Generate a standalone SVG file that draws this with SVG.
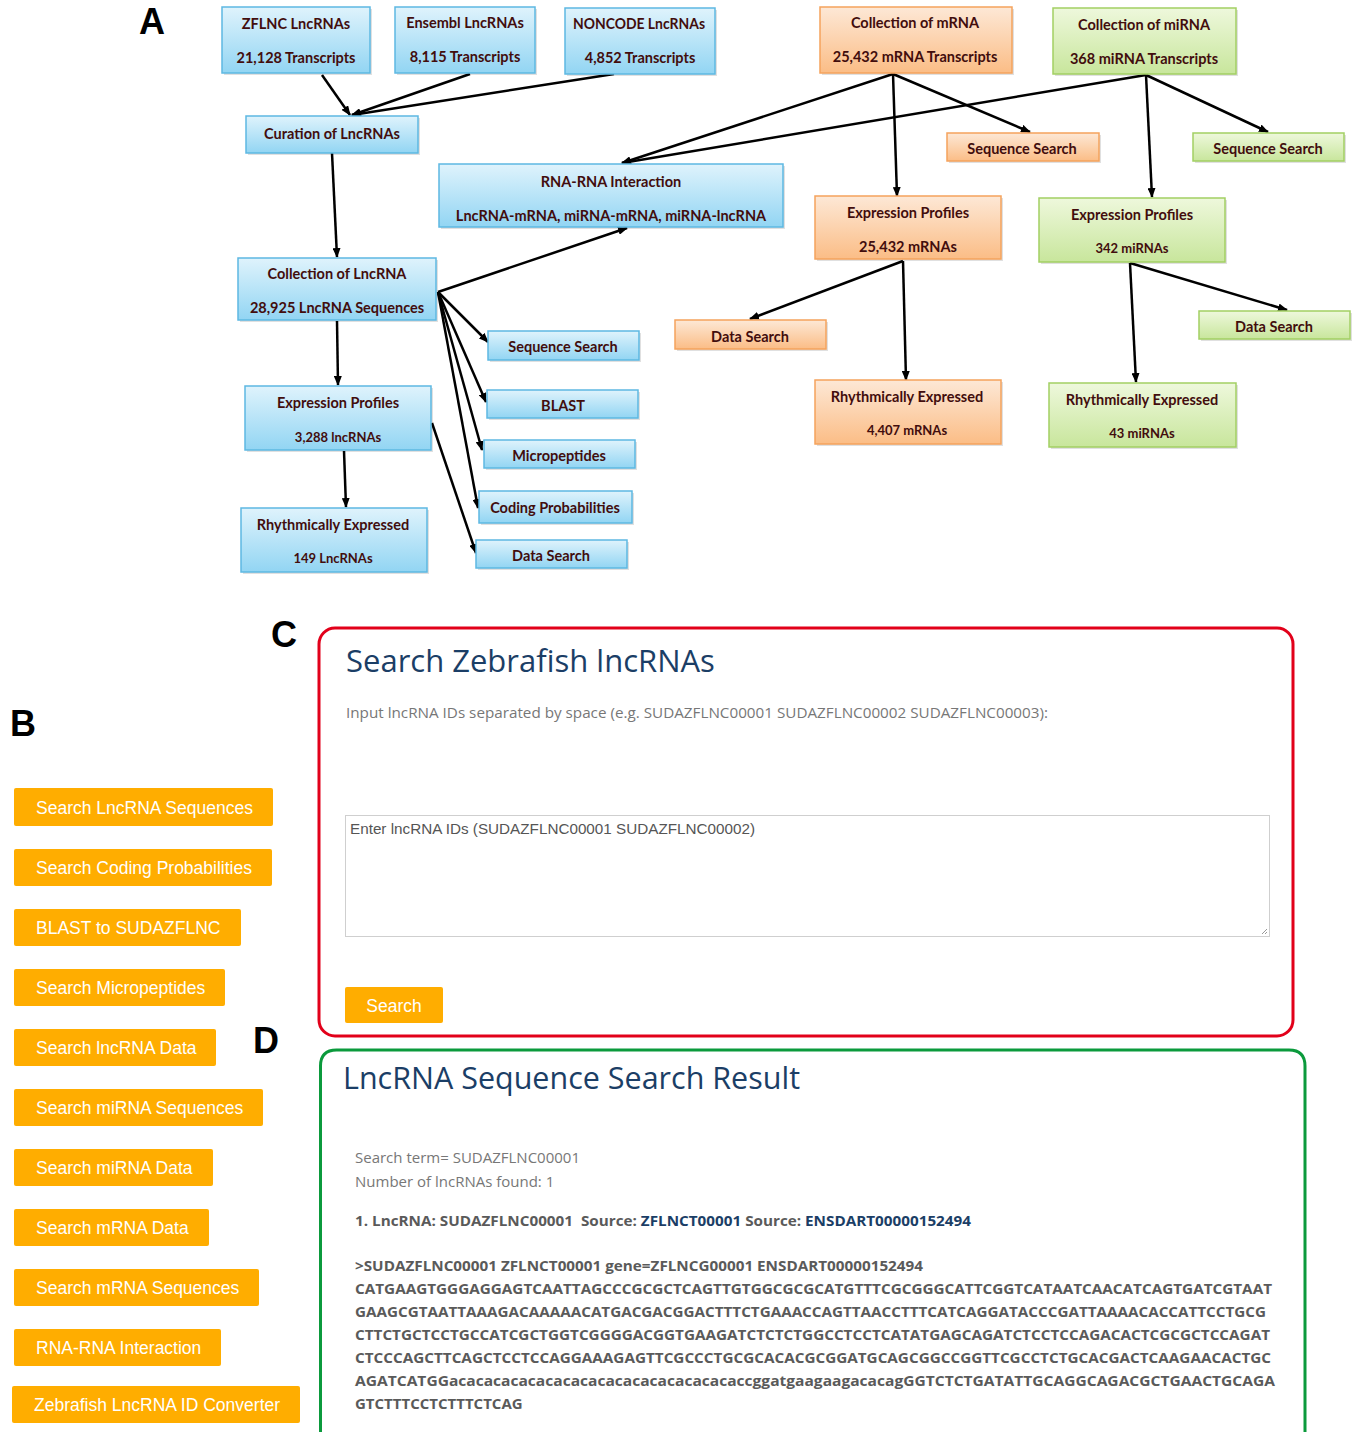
<svg xmlns="http://www.w3.org/2000/svg" width="1355" height="1432" viewBox="0 0 1355 1432">
<defs>
<linearGradient id="gBlue" x1="0" y1="0" x2="0" y2="1"><stop offset="0" stop-color="#dff3fc"/><stop offset="1" stop-color="#92d5f3"/></linearGradient>
<linearGradient id="gOrange" x1="0" y1="0" x2="0" y2="1"><stop offset="0" stop-color="#fde8d6"/><stop offset="1" stop-color="#fbbd86"/></linearGradient>
<linearGradient id="gGreen" x1="0" y1="0" x2="0" y2="1"><stop offset="0" stop-color="#eef8dc"/><stop offset="1" stop-color="#c8e69c"/></linearGradient>
<marker id="arr" markerUnits="userSpaceOnUse" markerWidth="10" markerHeight="8" refX="9" refY="4" orient="auto"><path d="M0,0 L10,4 L0,8 z" fill="#000"/></marker>
</defs>
<style>
.blue{fill:url(#gBlue);stroke:#5db8e2;stroke-width:1.5}
.orange{fill:url(#gOrange);stroke:#f5a35c;stroke-width:1.5}
.green{fill:url(#gGreen);stroke:#a2cf63;stroke-width:1.5}
.sh{fill:#000;opacity:0.12}
.nt{font-family:Lato,"Liberation Sans",sans-serif;font-weight:bold;font-size:14.5px;fill:#420d0d;text-anchor:middle;dominant-baseline:central}
.ns{font-size:13px}
.conn line{stroke:#000;stroke-width:2.5;marker-end:url(#arr)}
.lbl{font-family:"Liberation Sans",Arial,sans-serif;font-weight:bold;font-size:36px;fill:#000}
.btn{fill:#ffad00}
.bt{font-family:"Liberation Sans",Arial,sans-serif;font-size:17.5px;fill:#fff}
.h{font-family:"Open Sans","Liberation Sans",sans-serif;font-size:31px;fill:#1b3e66}
.p{font-family:"Open Sans","Liberation Sans",sans-serif;font-size:15px;fill:#777}
.sq{font-family:"Open Sans","Liberation Sans",sans-serif;font-size:15px;font-weight:bold;fill:#5a5a5a}
.lk{fill:#1b3e66}
</style>
<rect width="1355" height="1432" fill="#fff"/>

<!-- Panel labels -->
<text class="lbl" x="139" y="34">A</text>
<text class="lbl" x="10" y="736">B</text>
<text class="lbl" x="271" y="647">C</text>
<text class="lbl" x="253" y="1053">D</text>

<!-- Connectors -->
<g id="connectors" class="conn">
<line x1="322" y1="75" x2="350" y2="115"/>
<line x1="470" y1="74" x2="352" y2="115"/>
<line x1="614" y1="74" x2="352" y2="115"/>
<line x1="332" y1="153" x2="337" y2="257"/>
<line x1="337" y1="321" x2="338" y2="385"/>
<line x1="344" y1="451" x2="346" y2="507"/>
<line x1="438" y1="292" x2="627" y2="228"/>
<line x1="438" y1="292" x2="488" y2="342"/>
<line x1="438" y1="292" x2="486" y2="402"/>
<line x1="438" y1="292" x2="482" y2="450"/>
<line x1="438" y1="292" x2="478" y2="508"/>
<line x1="432" y1="423" x2="476" y2="553"/>
<line x1="893" y1="74" x2="622" y2="163"/>
<line x1="893" y1="74" x2="1030" y2="132"/>
<line x1="893" y1="74" x2="897" y2="196"/>
<line x1="1146" y1="75" x2="622" y2="163"/>
<line x1="1146" y1="75" x2="1268" y2="132"/>
<line x1="1146" y1="75" x2="1152" y2="197"/>
<line x1="903" y1="261" x2="750" y2="319"/>
<line x1="903" y1="261" x2="906" y2="380"/>
<line x1="1130" y1="263" x2="1287" y2="310"/>
<line x1="1130" y1="263" x2="1136" y2="382"/>
</g>

<!-- Blue nodes -->
<g id="n_zflnc"><rect class="sh" x="224" y="9" width="148" height="66"/><rect class="blue" x="222" y="7" width="148" height="66"/><text class="nt" x="296" y="23">ZFLNC LncRNAs</text><text class="nt" x="296" y="57">21,128 Transcripts</text></g>
<g id="n_ensembl"><rect class="sh" x="397" y="9" width="140" height="66"/><rect class="blue" x="395" y="7" width="140" height="66"/><text class="nt" x="465" y="22">Ensembl LncRNAs</text><text class="nt" x="465" y="56">8,115 Transcripts</text></g>
<g id="n_noncode"><rect class="sh" x="567" y="10" width="150" height="66"/><rect class="blue" x="565" y="8" width="150" height="66"/><text class="nt" x="639" y="23" textLength="132" lengthAdjust="spacingAndGlyphs">NONCODE LncRNAs</text><text class="nt" x="640" y="57">4,852 Transcripts</text></g>
<g id="n_curation"><rect class="sh" x="248" y="118" width="172" height="37"/><rect class="blue" x="246" y="116" width="172" height="37"/><text class="nt" x="332" y="133">Curation of LncRNAs</text></g>
<g id="n_rnarna"><rect class="sh" x="441" y="166" width="344" height="63"/><rect class="blue" x="439" y="164" width="344" height="63"/><text class="nt" x="611" y="181">RNA-RNA Interaction</text><text class="nt" x="611" y="215">LncRNA-mRNA, miRNA-mRNA, miRNA-lncRNA</text></g>
<g id="n_collnc"><rect class="sh" x="240" y="260" width="198" height="62"/><rect class="blue" x="238" y="258" width="198" height="62"/><text class="nt" x="337" y="273">Collection of LncRNA</text><text class="nt" x="337" y="307">28,925 LncRNA Sequences</text></g>
<g id="n_explnc"><rect class="sh" x="247" y="388" width="186" height="64"/><rect class="blue" x="245" y="386" width="186" height="64"/><text class="nt" x="338" y="402">Expression Profiles</text><text class="nt ns" x="338" y="437">3,288 lncRNAs</text></g>
<g id="n_rhylnc"><rect class="sh" x="243" y="510" width="186" height="64"/><rect class="blue" x="241" y="508" width="186" height="64"/><text class="nt" x="333" y="524">Rhythmically Expressed</text><text class="nt ns" x="333" y="558">149 LncRNAs</text></g>
<g id="n_seqlnc"><rect class="sh" x="490" y="333" width="151" height="29"/><rect class="blue" x="488" y="331" width="151" height="29"/><text class="nt" x="563" y="346">Sequence Search</text></g>
<g id="n_blast"><rect class="sh" x="489" y="392" width="151" height="28"/><rect class="blue" x="487" y="390" width="151" height="28"/><text class="nt" x="563" y="405">BLAST</text></g>
<g id="n_micro"><rect class="sh" x="486" y="442" width="151" height="28"/><rect class="blue" x="484" y="440" width="151" height="28"/><text class="nt" x="559" y="455">Micropeptides</text></g>
<g id="n_coding"><rect class="sh" x="481" y="493" width="153" height="32"/><rect class="blue" x="479" y="491" width="153" height="32"/><text class="nt" x="555" y="507">Coding Probabilities</text></g>
<g id="n_datalnc"><rect class="sh" x="478" y="542" width="151" height="28"/><rect class="blue" x="476" y="540" width="151" height="28"/><text class="nt" x="551" y="555">Data Search</text></g>

<!-- Orange nodes -->
<g id="n_colm"><rect class="sh" x="822" y="9" width="192" height="66"/><rect class="orange" x="820" y="7" width="192" height="66"/><text class="nt" x="915" y="22">Collection of mRNA</text><text class="nt" x="915" y="56">25,432 mRNA Transcripts</text></g>
<g id="n_seqm"><rect class="sh" x="949" y="135" width="152" height="28"/><rect class="orange" x="947" y="133" width="152" height="28"/><text class="nt" x="1022" y="148">Sequence Search</text></g>
<g id="n_expm"><rect class="sh" x="817" y="198" width="186" height="63"/><rect class="orange" x="815" y="196" width="186" height="63"/><text class="nt" x="908" y="212">Expression Profiles</text><text class="nt" x="908" y="246">25,432 mRNAs</text></g>
<g id="n_datam"><rect class="sh" x="677" y="322" width="151" height="29"/><rect class="orange" x="675" y="320" width="151" height="29"/><text class="nt" x="750" y="336">Data Search</text></g>
<g id="n_rhym"><rect class="sh" x="817" y="382" width="186" height="64"/><rect class="orange" x="815" y="380" width="186" height="64"/><text class="nt" x="907" y="396">Rhythmically Expressed</text><text class="nt ns" x="907" y="430">4,407 mRNAs</text></g>

<!-- Green nodes -->
<g id="n_colmi"><rect class="sh" x="1055" y="10" width="183" height="66"/><rect class="green" x="1053" y="8" width="183" height="66"/><text class="nt" x="1144" y="24">Collection of miRNA</text><text class="nt" x="1144" y="58">368 miRNA Transcripts</text></g>
<g id="n_seqmi"><rect class="sh" x="1195" y="135" width="151" height="28"/><rect class="green" x="1193" y="133" width="151" height="28"/><text class="nt" x="1268" y="148">Sequence Search</text></g>
<g id="n_expmi"><rect class="sh" x="1041" y="200" width="186" height="64"/><rect class="green" x="1039" y="198" width="186" height="64"/><text class="nt" x="1132" y="214">Expression Profiles</text><text class="nt ns" x="1132" y="248">342 miRNAs</text></g>
<g id="n_datami"><rect class="sh" x="1201" y="313" width="151" height="28"/><rect class="green" x="1199" y="311" width="151" height="28"/><text class="nt" x="1274" y="326">Data Search</text></g>
<g id="n_rhymi"><rect class="sh" x="1051" y="385" width="187" height="64"/><rect class="green" x="1049" y="383" width="187" height="64"/><text class="nt" x="1142" y="399">Rhythmically Expressed</text><text class="nt ns" x="1142" y="433">43 miRNAs</text></g>

<!-- Panel B: buttons -->
<g id="panelB">
<g id="b1"><rect class="btn" x="14" y="788" width="259" height="38" rx="2"/><text class="bt" x="36" y="814">Search LncRNA Sequences</text></g>
<g id="b2"><rect class="btn" x="14" y="849" width="258" height="37" rx="2"/><text class="bt" x="36" y="874">Search Coding Probabilities</text></g>
<g id="b3"><rect class="btn" x="14" y="909" width="227" height="37" rx="2"/><text class="bt" x="36" y="934">BLAST to SUDAZFLNC</text></g>
<g id="b4"><rect class="btn" x="14" y="969" width="211" height="37" rx="2"/><text class="bt" x="36" y="994">Search Micropeptides</text></g>
<g id="b5"><rect class="btn" x="14" y="1029" width="202" height="37" rx="2"/><text class="bt" x="36" y="1054">Search lncRNA Data</text></g>
<g id="b6"><rect class="btn" x="14" y="1089" width="249" height="37" rx="2"/><text class="bt" x="36" y="1114">Search miRNA Sequences</text></g>
<g id="b7"><rect class="btn" x="14" y="1149" width="199" height="37" rx="2"/><text class="bt" x="36" y="1174">Search miRNA Data</text></g>
<g id="b8"><rect class="btn" x="14" y="1209" width="195" height="37" rx="2"/><text class="bt" x="36" y="1234">Search mRNA Data</text></g>
<g id="b9"><rect class="btn" x="14" y="1269" width="245" height="37" rx="2"/><text class="bt" x="36" y="1294">Search mRNA Sequences</text></g>
<g id="b10"><rect class="btn" x="14" y="1329" width="207" height="37" rx="2"/><text class="bt" x="36" y="1354">RNA-RNA Interaction</text></g>
<g id="b11"><rect class="btn" x="12" y="1386" width="288" height="37" rx="2"/><text class="bt" x="34" y="1411">Zebrafish LncRNA ID Converter</text></g>
</g>

<!-- Panel C -->
<g id="panelC">
<rect x="319" y="628" width="974" height="408" rx="16" fill="none" stroke="#e2001a" stroke-width="3"/>
<text class="h" x="346" y="672">Search Zebrafish lncRNAs</text>
<text class="p" x="346" y="718" textLength="702" lengthAdjust="spacingAndGlyphs">Input lncRNA IDs separated by space (e.g. SUDAZFLNC00001 SUDAZFLNC00002 SUDAZFLNC00003):</text>
<rect x="345.5" y="815.5" width="924" height="121" fill="#fff" stroke="#cfcfcf" stroke-width="1"/>
<path d="M1262,934 L1267,929 M1265,934 L1267,932" stroke="#999" stroke-width="1"/>
<text x="350" y="834" font-family="'Liberation Sans',Arial,sans-serif" font-size="15" fill="#555" textLength="405" lengthAdjust="spacingAndGlyphs">Enter lncRNA IDs (SUDAZFLNC00001 SUDAZFLNC00002)</text>
<rect class="btn" x="345" y="987" width="98" height="36" rx="2"/>
<text class="bt" x="394" y="1012" text-anchor="middle">Search</text>
</g>

<!-- Panel D -->
<g id="panelD">
<path d="M320.5,1448 L320.5,1066 Q320.5,1050 336.5,1050 L1289,1050 Q1305,1050 1305,1066 L1305,1448" fill="none" stroke="#0b9a3c" stroke-width="3"/>
<text class="h" x="343" y="1089" textLength="457" lengthAdjust="spacingAndGlyphs">LncRNA Sequence Search Result</text>
<text class="p" x="355" y="1163">Search term= SUDAZFLNC00001</text>
<text class="p" x="355" y="1187">Number of lncRNAs found: 1</text>
<text class="sq" x="355" y="1226" xml:space="preserve" textLength="616" lengthAdjust="spacingAndGlyphs">1. LncRNA: SUDAZFLNC00001  Source: <tspan class="lk">ZFLNCT00001</tspan> Source: <tspan class="lk">ENSDART00000152494</tspan></text>
<text class="sq" x="355" y="1271" textLength="568" lengthAdjust="spacingAndGlyphs">&gt;SUDAZFLNC00001 ZFLNCT00001 gene=ZFLNCG00001 ENSDART00000152494</text>
<text class="sq" x="355" y="1294" textLength="917" lengthAdjust="spacingAndGlyphs">CATGAAGTGGGAGGAGTCAATTAGCCCGCGCTCAGTTGTGGCGCGCATGTTTCGCGGGCATTCGGTCATAATCAACATCAGTGATCGTAAT</text>
<text class="sq" x="355" y="1317" textLength="911" lengthAdjust="spacingAndGlyphs">GAAGCGTAATTAAAGACAAAAACATGACGACGGACTTTCTGAAACCAGTTAACCTTTCATCAGGATACCCGATTAAAACACCATTCCTGCG</text>
<text class="sq" x="355" y="1340" textLength="915" lengthAdjust="spacingAndGlyphs">CTTCTGCTCCTGCCATCGCTGGTCGGGGACGGTGAAGATCTCTCTGGCCTCCTCATATGAGCAGATCTCCTCCAGACACTCGCGCTCCAGAT</text>
<text class="sq" x="355" y="1363" textLength="916" lengthAdjust="spacingAndGlyphs">CTCCCAGCTTCAGCTCCTCCAGGAAAGAGTTCGCCCTGCGCACACGCGGATGCAGCGGCCGGTTCGCCTCTGCACGACTCAAGAACACTGC</text>
<text class="sq" x="355" y="1386" textLength="920" lengthAdjust="spacingAndGlyphs">AGATCATGGacacacacacacacacacacacacacacacacaccggatgaagaagacacagGGTCTCTGATATTGCAGGCAGACGCTGAACTGCAGA</text>
<text class="sq" x="355" y="1409">GTCTTTCCTCTTTCTCAG</text>
</g>
</svg>
